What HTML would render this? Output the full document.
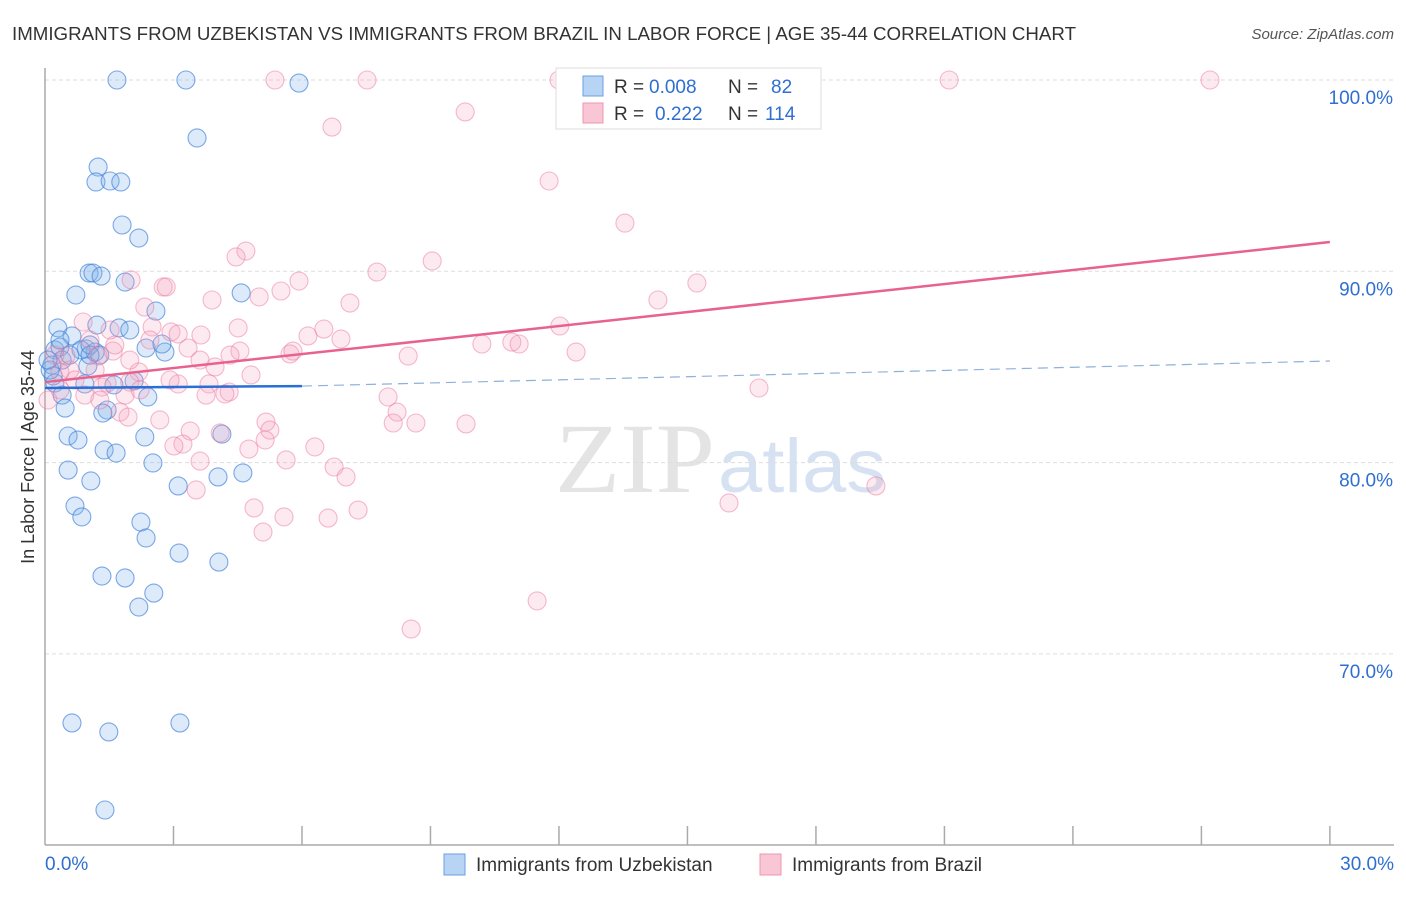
<!DOCTYPE html>
<html><head><meta charset="utf-8"><style>
body{margin:0;background:#fff;font-family:"Liberation Sans",sans-serif;}
</style></head><body>
<svg width="1406" height="892" xmlns="http://www.w3.org/2000/svg" id="chart" style="font-family:'Liberation Sans',sans-serif">
<text x="12" y="40" font-size="18" fill="#333" textLength="1064" lengthAdjust="spacingAndGlyphs">IMMIGRANTS FROM UZBEKISTAN VS IMMIGRANTS FROM BRAZIL IN LABOR FORCE | AGE 35-44 CORRELATION CHART</text>
<text x="1394" y="39" font-size="15" fill="#555" font-style="italic" text-anchor="end">Source: ZipAtlas.com</text>
<text x="555" y="492" font-size="100" fill="#e4e4e4" font-family="Liberation Serif" textLength="160" lengthAdjust="spacingAndGlyphs">ZIP</text>
<text x="718" y="492" font-size="76" fill="#d6e2f2" textLength="168" lengthAdjust="spacingAndGlyphs">atlas</text>
<g id="grid"></g><g id="axes"></g><g id="pts"></g><g id="trend"></g>
<text transform="translate(34,457) rotate(-90)" font-size="18" fill="#333" text-anchor="middle">In Labor Force | Age 35-44</text>
<g>
<rect x="556" y="68" width="265" height="61" fill="#fff" stroke="#ddd"/>
<rect x="583" y="76" width="20" height="20" fill="#b8d4f5" stroke="#6a9fe0"/>
<rect x="583" y="103" width="20" height="20" fill="#f9c6d6" stroke="#ee95b2"/>
<text x="614" y="93" font-size="19" fill="#333">R =</text>
<text x="649" y="93" font-size="19" fill="#2f6fd0">0.008</text>
<text x="728" y="93" font-size="19" fill="#333">N =</text>
<text x="771" y="93" font-size="19" fill="#2f6fd0">82</text>
<text x="614" y="120" font-size="19" fill="#333">R =</text>
<text x="655" y="120" font-size="19" fill="#2f6fd0">0.222</text>
<text x="728" y="120" font-size="19" fill="#333">N =</text>
<text x="765" y="120" font-size="19" fill="#2f6fd0">114</text>
</g>
<g>
<rect x="444" y="854" width="21" height="21" fill="#b8d4f5" stroke="#6a9fe0"/>
<text x="476" y="871" font-size="19" fill="#333">Immigrants from Uzbekistan</text>
<rect x="760" y="854" width="21" height="21" fill="#f9c6d6" stroke="#ee95b2"/>
<text x="792" y="871" font-size="19" fill="#333">Immigrants from Brazil</text>
</g>
</svg>
<script>
const blueX=[1.68,3.29,5.93,3.55,1.24,1.19,1.52,1.77,1.80,2.19,1.03,1.12,1.31,0.72,1.87,4.58,2.59,0.30,0.63,1.21,1.73,2.36,2.80,2.73,0.23,0.35,0.40,0.16,0.19,1.00,0.96,1.17,0.84,1.05,0.23,0.93,1.61,2.08,2.40,0.40,0.47,1.45,1.35,0.54,0.77,2.33,4.13,1.38,1.66,2.52,0.54,1.07,4.04,4.62,3.11,0.70,0.86,2.24,2.36,3.13,4.06,1.33,1.87,2.54,2.19,0.63,1.49,3.15,1.40,0.12,0.07,0.58,1.28,1.05,1.98,0.35];
const blueY=[100,100,99.84,96.97,95.45,94.67,94.72,94.67,92.42,91.74,89.91,89.91,89.75,88.76,89.44,88.87,87.92,87.04,86.62,87.19,87.04,85.99,85.78,86.20,85.89,86.04,85.36,85.10,84.53,85.05,85.94,85.78,85.89,86.15,84.16,84.11,84.06,84.27,83.43,83.53,82.85,82.75,82.59,81.39,81.18,81.34,81.49,80.66,80.50,79.98,79.61,79.04,79.25,79.46,78.78,77.73,77.16,76.89,76.06,75.27,74.80,74.07,73.97,73.18,72.45,66.39,65.92,66.39,61.84,84.84,85.36,85.62,85.62,85.62,86.93,86.41];
const pinkX=[5.37,7.52,12.0,21.11,27.2,9.81,6.70,11.77,13.54,4.69,4.46,7.75,9.04,5.93,15.22,2.01,2.76,2.83,5.51,5.0,3.90,14.31,2.33,7.12,4.51,2.50,2.94,3.64,6.14,6.51,6.91,3.11,10.2,10.9,11.07,12.02,12.4,8.48,5.72,5.79,4.55,1.59,0.89,1.63,3.34,1.24,0.49,3.97,4.81,2.19,3.11,3.83,4.30,4.20,3.76,1.45,1.33,1.98,8.01,8.22,8.13,8.66,9.83,16.67,5.16,5.25,1.75,1.94,3.39,4.09,3.22,3.01,4.76,5.63,6.30,3.62,6.75,7.03,19.4,3.53,4.88,15.97,7.31,5.58,6.61,5.09,11.49,8.55,0.07,0.35,0.58,0.23,1.05,0.70,1.17,1.98,2.45,2.92,3.62,1.52,1.87,0.93,0.35,1.28,2.68,2.22,4.32,5.14];
const pinkY=[100,100,100,100,100,98.33,97.54,94.72,92.52,91.06,90.75,89.96,90.54,89.49,89.39,89.55,89.18,89.18,88.97,88.66,88.50,88.50,88.13,88.34,87.04,87.09,86.83,86.67,86.62,86.98,86.46,86.72,86.20,86.30,86.20,87.14,85.78,85.57,85.68,85.83,85.83,85.83,87.35,86.15,85.99,85.57,85.57,85.0,84.58,84.74,84.11,84.11,83.69,83.59,83.53,84.16,83.95,84.21,83.43,82.64,82.07,82.07,82.02,83.90,82.12,81.70,82.64,82.38,81.65,81.55,80.97,80.87,80.71,80.14,80.82,80.08,79.77,79.25,78.78,78.57,77.63,77.89,77.52,77.16,77.10,76.37,72.77,71.30,83.27,83.80,84.84,85.62,86.41,84.32,84.84,85.36,86.41,84.32,85.36,86.93,83.53,83.53,84.74,83.27,82.23,83.80,85.62,81.18];
const yTicks=[100,90,80,70];
const yTickLabels=["100.0%","90.0%","80.0%","70.0%"];
const xTicks=[0,3,6,9,12,15,18,21,24,27,30];
const blueTrendX=[0,6,30];
const blueTrendY=[83.9,84.0,85.31];
const pinkTrendX=[0,30];
const pinkTrendY=[84.21,91.53];

const NS="http://www.w3.org/2000/svg";
const xs=v=>45+v*42.83;
const ys=v=>80+(100-v)*19.13;
function mk(tag,attrs,parent){const e=document.createElementNS(NS,tag);for(const k in attrs)e.setAttribute(k,attrs[k]);document.getElementById(parent).appendChild(e);return e;}
yTicks.forEach((t,i)=>{
  const l=mk('line',{x1:45,x2:1394,y1:ys(t),y2:ys(t),stroke:'#ddd','stroke-dasharray':'4,3'},'grid');
  
  
  const tx=mk('text',{x:1393,y:ys(t)+24,'font-size':19,fill:'#2f6fd0','text-anchor':'end'},'grid');
  tx.textContent=yTickLabels[i];
  
  
});
const ax=mk('line',{x1:45,x2:45,y1:68,y2:845,stroke:'#aaa','stroke-width':1.5},'axes');


const bx=mk('line',{x1:45,x2:1394,y1:845,y2:845,stroke:'#aaa','stroke-width':1.5},'axes');


xTicks.slice(1).forEach(t=>{
  const l=mk('line',{x1:xs(t),x2:xs(t),y1:826,y2:845,stroke:'#aaa','stroke-width':1.5},'axes');
  
  
});
[[0,'0.0%','start',45],[30,'30.0%','end',1394]].forEach(a=>{
  const t=mk('text',{x:a[3],y:870,'font-size':19,fill:'#2f6fd0','text-anchor':a[2]},'axes');
  t.textContent=a[1];
  
  
});
blueX.forEach((v,i)=>{
  const c=mk('circle',{cx:xs(v),cy:ys(blueY[i]),r:9,fill:'rgba(130,178,235,0.28)',stroke:'rgba(60,125,220,0.65)','stroke-width':1.1},'pts');
  
  
});
pinkX.forEach((v,i)=>{
  const c=mk('circle',{cx:xs(v),cy:ys(pinkY[i]),r:9,fill:'rgba(245,160,188,0.22)',stroke:'rgba(235,120,158,0.5)','stroke-width':1.1},'pts');
  
  
});
const b1=mk('line',{x1:xs(blueTrendX[0]),y1:ys(blueTrendY[0]),x2:xs(blueTrendX[1]),y2:ys(blueTrendY[1]),stroke:'#2a6fd6','stroke-width':2.5},'trend');


const b2=mk('line',{x1:xs(blueTrendX[1]),y1:ys(blueTrendY[1]),x2:xs(blueTrendX[2]),y2:ys(blueTrendY[2]),stroke:'#8fb0dc','stroke-width':1.2,'stroke-dasharray':'10,6'},'trend');


const p1=mk('line',{x1:xs(pinkTrendX[0]),y1:ys(pinkTrendY[0]),x2:xs(pinkTrendX[1]),y2:ys(pinkTrendY[1]),stroke:'#e8628e','stroke-width':2.5},'trend');


</script>
</body></html>
